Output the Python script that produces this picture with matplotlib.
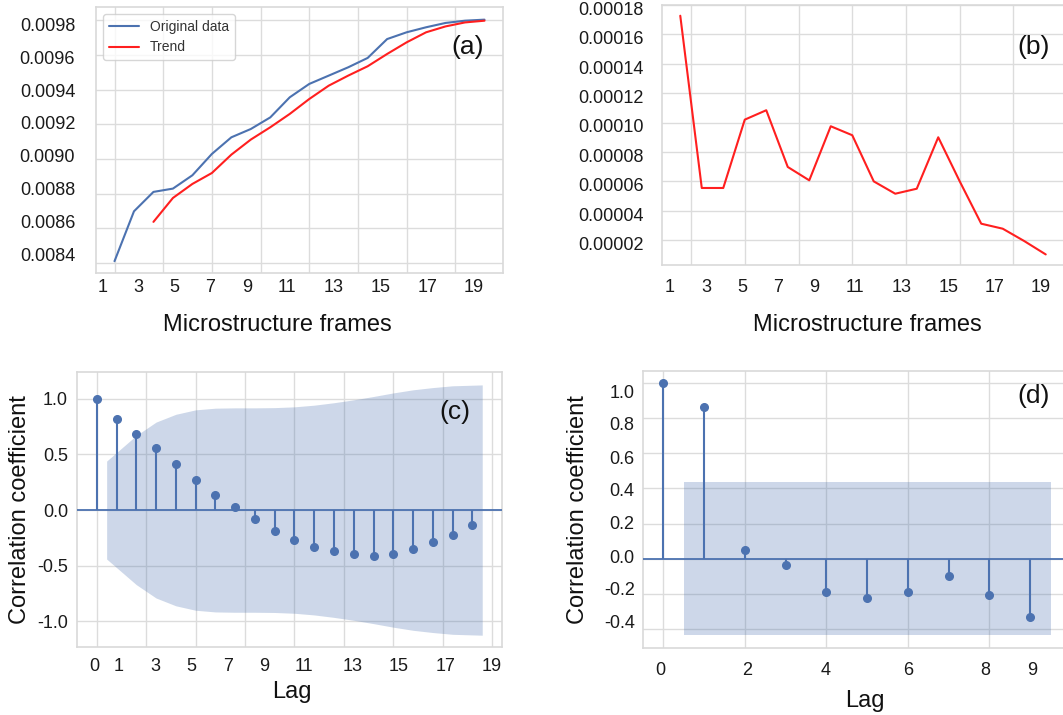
"""
Four-panel figure: tuning-parameter trend, residual, ACF and PACF.
Output: out.png
"""
import numpy as np
import matplotlib
matplotlib.use("Agg")
import matplotlib.pyplot as plt
import seaborn as sns

sns.set_style("whitegrid")
plt.rcParams['font.family'] = ['Liberation Sans', 'DejaVu Sans']

BLUE = "#4C72B0"
RED = "#FF1F1F"
W, H = 1063, 715

# ── data ─────────────────────────────────────────────────────────────────────
orig_idx = list(range(20))
orig_vals = [0.008410, 0.008698, 0.008810, 0.008829, 0.008906, 0.009029, 0.009125,
             0.009173, 0.009240, 0.009356, 0.009433, 0.009481, 0.009529, 0.009583,
             0.009692, 0.009731, 0.009760, 0.009785, 0.009798, 0.009804]
trend_idx = list(range(2, 20))
trend_vals = [0.008637, 0.008775, 0.008856, 0.008919, 0.009025, 0.009112, 0.009183,
              0.009260, 0.009346, 0.009423, 0.009481, 0.009535, 0.009606, 0.009673,
              0.009731, 0.009765, 0.009788, 0.009798]

resid_idx = list(range(2, 20))
resid_vals = [0.0001727, 0.0000555, 0.0000555, 0.0001020, 0.0001084, 0.0000698,
              0.0000607, 0.0000975, 0.0000914, 0.0000600, 0.0000516, 0.0000550,
              0.0000900, 0.0000600, 0.0000312, 0.0000278, 0.0000194, 0.0000103]

acf_lags = list(range(20))
acf_vals = [1.0, 0.815, 0.68, 0.555, 0.412, 0.272, 0.134, 0.024, -0.081, -0.185,
            -0.269, -0.328, -0.37, -0.394, -0.415, -0.394, -0.349, -0.29, -0.221, -0.134]
acf_conf = [0.44, 0.67, 0.79, 0.86, 0.90, 0.915, 0.918, 0.918, 0.92, 0.927,
            0.942, 0.964, 0.99, 1.02, 1.052, 1.08, 1.10, 1.116, 1.124]

pacf_lags = list(range(10))
pacf_vals = [1.0, 0.867, 0.051, -0.034, -0.19, -0.224, -0.19, -0.10, -0.21, -0.332]
pacf_conf = [0.437] * 9

# tick labels (the originals were pasted on, so they sit off the grid)
frame_labels = ["1", "3", "5", "7", "9", "11", "13", "15", "17", "19"]
a_ylabels = ["0.0098", "0.0096", "0.0094", "0.0092", "0.0090", "0.0088", "0.0086", "0.0084"]
b_ylabels = ["0.00018", "0.00016", "0.00014", "0.00012", "0.00010",
             "0.00008", "0.00006", "0.00004", "0.00002"]
c_xlabels = ["0", "1", "3", "5", "7", "9", "11", "13", "15", "17", "19"]
c_ylabels = ["1.0", "0.5", "0.0", "-0.5", "-1.0"]
d_xlabels = ["0", "2", "4", "6", "8", "9"]
d_ylabels = ["1.0", "0.8", "0.6", "0.4", "0.2", "0.0", "-0.2", "-0.4"]

# where those labels sit, in each panel's data units
A_XLAB_AT = [-0.63, 1.22, 3.07, 4.92, 6.83, 8.88, 11.25, 13.67, 16.09, 18.46]
A_YLAB_AT = [0.009775, 0.009587, 0.009396, 0.009208, 0.009019, 0.008827, 0.008640, 0.008448]
B_XLAB_AT = [1.52, 3.21, 4.88, 6.53, 8.22, 10.12, 12.29, 14.46, 16.61, 18.75]
B_YLAB_AT = [v - 2.3e-6 for v in np.arange(0.00018, 0.000019, -0.00002)]
C_XLAB_AT = [-0.12, 1.09, 2.96, 4.8, 6.64, 8.48, 10.5, 12.93, 15.26, 17.62, 19.98]
D_XLAB_AT = [-0.07, 2.06, 3.97, 6.0, 7.9, 9.04]
D_YLAB_AT = [0.953, 0.772, 0.579, 0.393, 0.203, 0.013, -0.173, -0.357]

TICK_FS = 13
LABEL_FS = 17
PANEL_FS = 19


def add_axes(fig, l, t, r, b):
    return fig.add_axes([l / W, 1 - b / H, (r - l) / W, (b - t) / H])


def split_ticks(axis, grid_at, label_at, labels):
    """Grid lines on major ticks, text on minor ticks."""
    axis.remove_overlapping_locs = False
    axis.set_ticks(grid_at)
    axis.set_ticklabels([])
    axis.set_ticks(label_at, labels, minor=True)


def style(ax, xpad, ypad):
    for sp in ax.spines.values():
        sp.set_color("#d9d9d9")
        sp.set_linewidth(1.2)
    ax.grid(True, which='major', color="#dcdcdc", lw=1.0)
    ax.grid(False, which='minor')
    ax.tick_params(which='both', length=0, labelsize=TICK_FS, colors="#1a1a1a")
    ax.tick_params(axis='x', which='both', pad=xpad)
    ax.tick_params(axis='y', which='both', pad=ypad)


fig = plt.figure(figsize=(W / 100, H / 100), dpi=100)
fig.patch.set_facecolor("white")

# ═════ (a) original data and trend ═══════════════════════════════════════════
ax = add_axes(fig, 96, 7, 503, 273)
ax.plot(orig_idx, orig_vals, color=BLUE, lw=1.5, label="Original data")
ax.plot(trend_idx, trend_vals, color=RED, lw=1.5, label="Trend")
ax.set_xlim(-0.95, 19.95)
ax.set_ylim(0.008342, 0.009877)
split_ticks(ax.xaxis, np.arange(0, 19, 2.5), A_XLAB_AT, frame_labels)
split_ticks(ax.yaxis, np.arange(0.0084, 0.00981, 0.0002), A_YLAB_AT, a_ylabels)
style(ax, xpad=4.5, ypad=15)
ax.set_xlabel("Microstructure frames", fontsize=LABEL_FS, color="#111111")
ax.xaxis.set_label_coords(0.445, -0.155)
ax.legend(loc="upper left", fontsize=10, frameon=True, handlelength=2.2,
          borderaxespad=0.5, labelcolor="#333333")
ax.text(0.912, 0.85, "(a)", transform=ax.transAxes, fontsize=PANEL_FS,
        ha='center', va='center', color="#111111")

# ═════ (b) residual ══════════════════════════════════════════════════════════
ax = add_axes(fig, 662, 5, 1064, 265)
ax.plot(resid_idx, resid_vals, color=RED, lw=1.5)
ax.set_xlim(1.15, 19.85)
ax.set_ylim(3.1e-6, 0.00018)
split_ticks(ax.xaxis, np.arange(2.5, 19.9, 2.5), B_XLAB_AT, frame_labels)
split_ticks(ax.yaxis, np.arange(0.00002, 0.000181, 0.00002), B_YLAB_AT, b_ylabels)
style(ax, xpad=10, ypad=13)
ax.set_xlabel("Microstructure frames", fontsize=LABEL_FS, color="#111111")
ax.xaxis.set_label_coords(0.511, -0.19)
ax.text(0.924, 0.84, "(b)", transform=ax.transAxes, fontsize=PANEL_FS,
        ha='center', va='center', color="#111111")


def corr_panel(ax, lags, vals, conf):
    band_x = np.array(lags[1:], dtype=float)
    band_x[0] -= 0.5
    band_x[-1] += 0.5
    conf = np.array(conf)
    ax.fill_between(band_x, -conf, conf, color=BLUE, alpha=0.28, lw=0, zorder=2)
    ax.axhline(0, color=BLUE, lw=1.3, zorder=3)
    ax.vlines(lags, 0, vals, color=BLUE, lw=1.5, zorder=3)
    ax.plot(lags, vals, 'o', color=BLUE, ms=5.5, zorder=4)
    ax.set_ylabel("Correlation coefficient", fontsize=LABEL_FS, color="#111111")
    ax.set_xlabel("Lag", fontsize=LABEL_FS, color="#111111")


# ═════ (c) autocorrelation ═══════════════════════════════════════════════════
ax = add_axes(fig, 77, 372, 502, 647)
corr_panel(ax, acf_lags, acf_vals, acf_conf)
ax.set_xlim(-1, 20.5)
ax.set_ylim(-1.23, 1.24)
split_ticks(ax.xaxis, np.arange(0, 20.1, 2.5), C_XLAB_AT, c_xlabels)
ax.set_yticks([1.0, 0.5, 0.0, -0.5, -1.0], c_ylabels)
style(ax, xpad=8, ypad=6.5)
ax.xaxis.set_label_coords(0.505, -0.125)
ax.yaxis.set_label_coords(-0.108, 0.5)
ax.text(0.889, 0.856, "(c)", transform=ax.transAxes, fontsize=PANEL_FS,
        ha='center', va='center', color="#111111")

# ═════ (d) partial autocorrelation ═══════════════════════════════════════════
ax = add_axes(fig, 643, 371, 1071, 648)
corr_panel(ax, pacf_lags, pacf_vals, pacf_conf)
ax.set_xlim(-0.5, 10)
ax.set_ylim(-0.51, 1.07)
split_ticks(ax.xaxis, [0, 2, 4, 6, 8], D_XLAB_AT, d_xlabels)
split_ticks(ax.yaxis, np.arange(-0.4, 1.01, 0.2), D_YLAB_AT, d_ylabels)
style(ax, xpad=10, ypad=6)
ax.xaxis.set_label_coords(0.519, -0.15)
ax.yaxis.set_label_coords(-0.126, 0.5)
ax.text(0.912, 0.908, "(d)", transform=ax.transAxes, fontsize=PANEL_FS,
        ha='center', va='center', color="#111111")

fig.savefig("out.png", dpi=100, facecolor="white")
